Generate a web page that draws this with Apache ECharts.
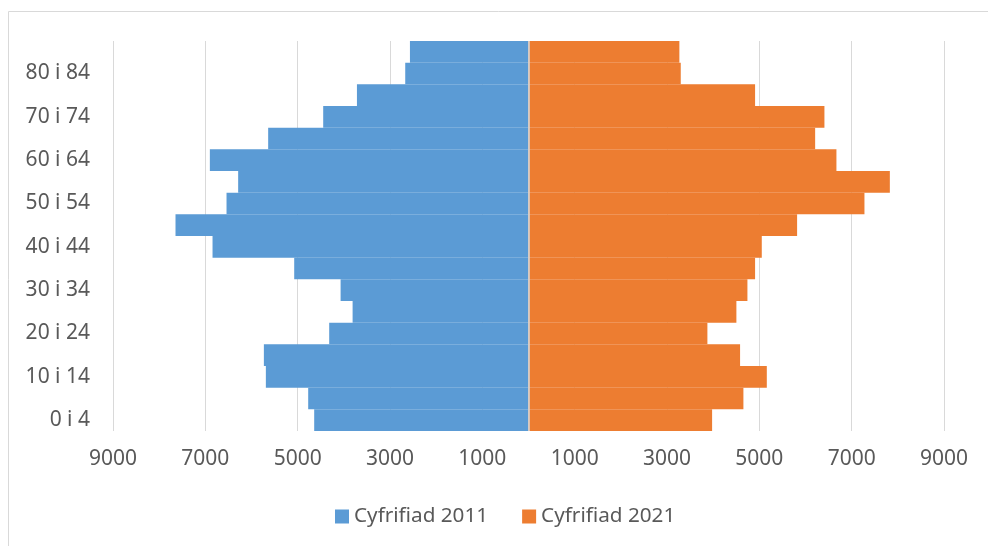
<!DOCTYPE html>
<html>
<head>
<meta charset="utf-8">
<script src="https://cdn.jsdelivr.net/npm/echarts@6/dist/echarts.min.js"></script>
<style>
html,body{margin:0;padding:0;background:#fff;}
#chart{width:988px;height:546px;}
</style>
</head>
<body>
<div id="chart"></div>
<script>
const categories = ['0 i 4','5 i 9','10 i 14','15 i 19','20 i 24','25 i 29','30 i 34','35 i 39','40 i 44','45 i 49','50 i 54','55 i 59','60 i 64','65 i 69','70 i 74','75 i 79','80 i 84','85+'];
const census2011 = [4642, 4772, 5689, 5732, 4317, 3810, 4070, 5075, 6844, 7646, 6541, 6289, 6902, 5639, 4447, 3716, 2670, 2568];
const census2021 = [3977, 4655, 5162, 4583, 3875, 4503, 4742, 4908, 5053, 5818, 7277, 7827, 6670, 6209, 6410, 4908, 3298, 3268];
const seriesNames = ['Cyfrifiad 2011', 'Cyfrifiad 2021'];

const FONT = 'Noto Sans';
const TXT = '#595959';
const chart = echarts.init(document.getElementById('chart'));
chart.setOption({
  animation: false,
  textStyle: { fontFamily: FONT },
  graphic: [{
    type: 'rect', silent: true, z: -10,
    shape: { x: 8.5, y: 11.5, width: 1000, height: 600 },
    style: { fill: 'none', stroke: '#d9d9d9', lineWidth: 1 }
  }],
  grid: { left: 113, right: 44, top: 41, bottom: 115, containLabel: false },
  legend: {
    data: seriesNames,
    left: 330, top: 501,
    itemWidth: 14, itemHeight: 14, itemGap: 34,
    icon: 'rect',
    textStyle: { fontFamily: FONT, fontSize: 20.7, color: TXT }
  },
  xAxis: {
    type: 'value', min: -9000, max: 9000, interval: 2000,
    axisLine: { show: false }, axisTick: { show: false },
    splitLine: { show: true, lineStyle: { color: '#d9d9d9', width: 1 } },
    axisLabel: {
      fontFamily: FONT, fontSize: 21, color: TXT, margin: 18,
      formatter: v => String(Math.abs(v))
    }
  },
  yAxis: {
    type: 'category', data: categories,
    axisLine: { show: false, onZero: false }, axisTick: { show: false },
    axisLabel: { interval: 1, fontFamily: FONT, fontSize: 21, color: TXT, margin: 23 }
  },
  series: [
    {
      name: seriesNames[0], type: 'bar',
      data: census2011.map(v => -v),
      barGap: '-100%', barCategoryGap: '0%',
      itemStyle: { color: '#5B9BD5' },
      markLine: {
        silent: true, symbol: 'none', label: { show: false },
        lineStyle: { color: '#d9d9d9', width: 1.5, type: 'solid' },
        data: [{ xAxis: 0 }]
      }
    },
    {
      name: seriesNames[1], type: 'bar',
      data: census2021,
      barGap: '-100%', barCategoryGap: '0%',
      itemStyle: { color: '#ED7D31' }
    }
  ]
});
</script>
</body>
</html>
